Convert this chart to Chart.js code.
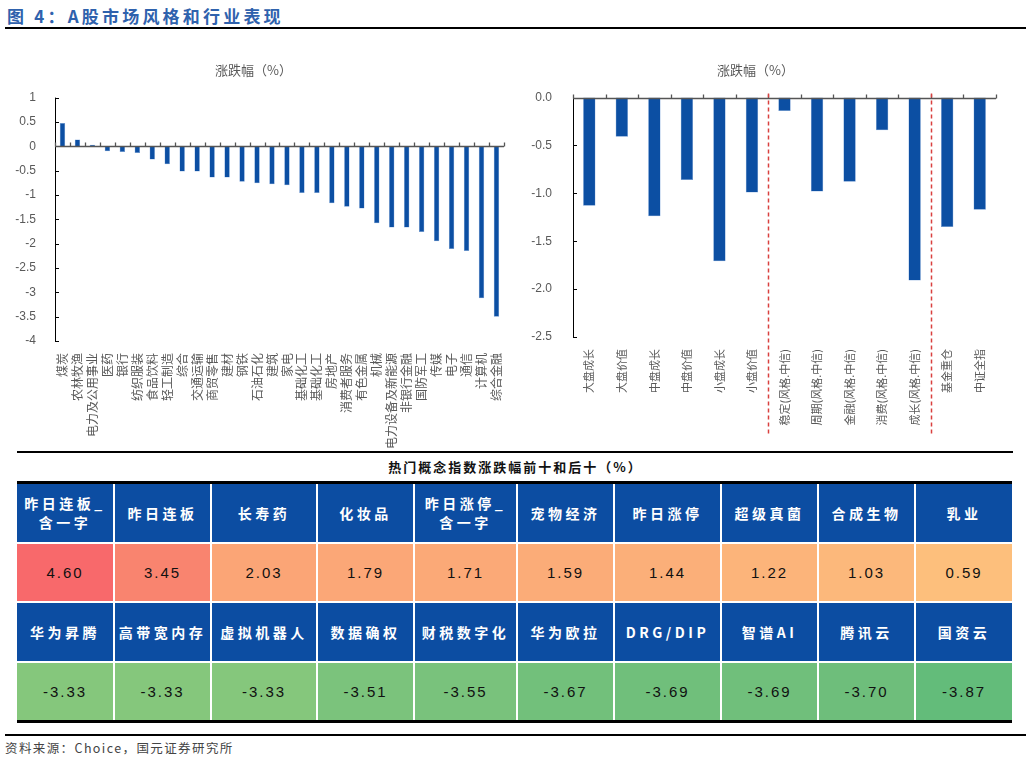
<!DOCTYPE html>
<html>
<head>
<meta charset="utf-8">
<script src="https://cdn.jsdelivr.net/npm/chart.js@4.4.1/dist/chart.umd.min.js"></script>
<style>
  body { margin: 0; background: #fff; }
  #page { position: relative; width: 1031px; height: 758px; overflow: hidden; font-family: "Noto Sans CJK SC", sans-serif; }
  .hline { position: absolute; height: 2px; background: #000; }
  #head { position: absolute; left: 7px; top: 3px; font-size: 17px; font-weight: bold; color: #2f62ad; letter-spacing: 3.2px; }
  #leftBox { position: absolute; left: 0; top: 50px; width: 515px; height: 400px; }
  #rightBox { position: absolute; left: 515px; top: 50px; width: 516px; height: 400px; }
  #tblTitle { position: absolute; left: 0; width: 1031px; top: 457px; text-align: center; font-size: 13px; font-weight: bold; letter-spacing: 2px; color: #111; }
  #tbl { position: absolute; left: 17px; top: 481px; display: grid; gap: 2px; background: #fff; border-top: 3px solid #000; border-bottom: 3px solid #000; }
  #tbl div { display: flex; align-items: center; justify-content: center; text-align: center; }
  .hd { background: #0c4da2; color: #fff; font-weight: bold; font-size: 14px; letter-spacing: 3.5px; line-height: 19px; }
  .vl { color: #111; font-family: "Liberation Sans", sans-serif; font-size: 15px; letter-spacing: 2px; }
  #src { position: absolute; left: 5px; top: 738px; font-size: 12.5px; color: #444; letter-spacing: 1.4px; }
</style>
</head>
<body>
<div id="page">
  <div id="head">图 4：A股市场风格和行业表现</div>
  <div class="hline" style="left:5px; top:27px; width:1021px;"></div>
  <div id="leftBox"><canvas id="industryChart"></canvas></div>
  <div id="rightBox"><canvas id="styleChart"></canvas></div>
  <div class="hline" style="left:17px; top:451px; width:996px;"></div>
  <div id="tblTitle">热门概念指数涨跌幅前十和后十（%）</div>
  <div id="tbl"></div>
  <div class="hline" style="left:5px; top:734px; width:1021px;"></div>
  <div id="src">资料来源：Choice，国元证券研究所</div>
</div>
<script>
// industry returns (%)
const industryLabels = ['煤炭', '农林牧渔', '电力及公用事业', '医药', '银行', '纺织服装', '食品饮料', '轻工制造', '综合', '交通运输',
  '商贸零售', '建材', '钢铁', '石油石化', '建筑', '家电', '基础化工', '基础化工', '房地产', '消费者服务',
  '有色金属', '机械', '电力设备及新能源', '非银行金融', '国防军工', '传媒', '电子', '通信', '计算机', '综合金融'];
const industryChange = [0.48, 0.14, 0.03, -0.10, -0.12, -0.14, -0.27, -0.37, -0.52, -0.52,
  -0.64, -0.64, -0.73, -0.76, -0.78, -0.80, -0.96, -0.96, -1.17, -1.24,
  -1.28, -1.58, -1.67, -1.67, -1.76, -1.95, -2.11, -2.15, -3.12, -3.50];
const industryTicks = [1, 0.5, 0, -0.5, -1, -1.5, -2, -2.5, -3, -3.5, -4];

// style index returns (%)
const styleLabels = ['大盘成长', '大盘价值', '中盘成长', '中盘价值', '小盘成长', '小盘价值',
  '稳定(风格.中信)', '周期(风格.中信)', '金融(风格.中信)', '消费(风格.中信)', '成长(风格.中信)', '基金重仓', '中证全指'];
const styleChange = [-1.13, -0.41, -1.24, -0.86, -1.71, -0.99, -0.14, -0.98, -0.88, -0.34, -1.91, -1.35, -1.17];
const styleTicks = [0, -0.5, -1, -1.5, -2, -2.5];
const styleSplits = [6, 11];

// hot concepts table
const topConcepts = ['昨日连板_<br>含一字', '昨日连板', '长寿药', '化妆品', '昨日涨停_<br>含一字', '宠物经济', '昨日涨停', '超级真菌', '合成生物', '乳业'];
const topChange = ['4.60', '3.45', '2.03', '1.79', '1.71', '1.59', '1.44', '1.22', '1.03', '0.59'];
const bottomConcepts = ['华为昇腾', '高带宽内存', '虚拟机器人', '数据确权', '财税数字化', '华为欧拉', 'DRG/DIP', '智谱AI', '腾讯云', '国资云'];
const bottomChange = ['-3.33', '-3.33', '-3.33', '-3.51', '-3.55', '-3.67', '-3.69', '-3.69', '-3.70', '-3.87'];
const topColors = ['#f8696b', '#f9846f', '#fba576', '#fba777', '#fba977', '#fbac78', '#fbaf79', '#fcb47a', '#fcb87b', '#fdbf7c'];
const bottomColors = ['#85c77c', '#85c77c', '#85c77c', '#7bc37c', '#79c27c', '#72c07b', '#70bf7b', '#70bf7b', '#6ebe7b', '#63bc7a'];
const colWidths = [96, 95, 104, 95, 101, 95, 105, 95, 95, 96];

const BLUE = '#0c4fa3';
const GRAY = '#595959';

const axisDeco = {
  id: 'axisDeco',
  afterDatasetsDraw(chart, args, o) {
    const { ctx, chartArea: a, scales: { x, y } } = chart;
    const n = chart.data.labels.length;
    const bound = i => i === 0 ? a.left : i === n ? a.right : (x.getPixelForValue(i - 1) + x.getPixelForValue(i)) / 2;
    ctx.save();
    ctx.strokeStyle = '#000';
    ctx.lineWidth = 1;
    ctx.beginPath();
    const lx = Math.round(a.left) + 0.5;
    ctx.moveTo(lx, a.top); ctx.lineTo(lx, a.bottom);
    y.ticks.forEach(t => {
      const py = Math.round(y.getPixelForValue(t.value)) + 0.5;
      ctx.moveTo(a.left, py); ctx.lineTo(a.left + 4, py);
    });
    ctx.stroke();
    // category axis on the zero line
    const zy = Math.round(y.getPixelForValue(0)) + 0.5;
    ctx.strokeStyle = '#555';
    ctx.lineWidth = 1.3;
    ctx.beginPath();
    ctx.moveTo(a.left, zy); ctx.lineTo(a.right, zy);
    for (let i = 0; i <= n; i++) {
      const bx = Math.round(bound(i)) + 0.5;
      ctx.moveTo(bx, zy); ctx.lineTo(bx, zy - 4);
    }
    ctx.stroke();
    // red dashed group separators
    if (o.splits) {
      ctx.strokeStyle = '#d9403f';
      ctx.lineWidth = 1.5;
      ctx.setLineDash([4, 3]);
      o.splits.forEach(i => {
        const bx = Math.round(bound(i)) + 0.5;
        ctx.beginPath();
        ctx.moveTo(bx, a.top - 4); ctx.lineTo(bx, o.bottom);
        ctx.stroke();
      });
    }
    ctx.restore();
  }
};

function barChart(id, labels, values, ticks, cfg) {
  const canvas = document.getElementById(id);
  return new Chart(canvas, {
    type: 'bar',
    data: {
      labels,
      datasets: [{ data: values, backgroundColor: BLUE, borderColor: '#6f9bd6', borderWidth: 0.5, barPercentage: cfg.bar, categoryPercentage: 1 }]
    },
    options: {
      responsive: true,
      maintainAspectRatio: false,
      animation: false,
      layout: { padding: { left: 0, right: cfg.right, top: 0, bottom: 0 } },
      plugins: {
        legend: { display: false },
        tooltip: { enabled: false },
        title: {
          display: true, text: '涨跌幅（%）', color: GRAY,
          font: { family: 'Noto Sans CJK SC', size: 13, weight: 'normal' },
          padding: { top: 12, bottom: 20 }
        },
        axisDeco: { splits: cfg.splits, bottom: cfg.splitBottom }
      },
      scales: {
        x: {
          grid: { display: false },
          border: { display: false },
          ticks: {
            autoSkip: false, minRotation: 90, maxRotation: 90, padding: 4, color: GRAY,
            font: { family: 'Noto Sans CJK SC', size: cfg.labelSize }
          },
          afterFit: s => { s.height = cfg.xHeight; }
        },
        y: {
          min: ticks[ticks.length - 1], max: ticks[0],
          afterBuildTicks: s => { s.ticks = ticks.map(v => ({ value: v })); },
          grid: { display: false },
          border: { display: false },
          ticks: {
            color: GRAY, padding: cfg.tickPad,
            font: { family: 'Liberation Sans', size: 12 },
            callback: v => cfg.fmt(v)
          },
          afterFit: s => { s.width = cfg.yWidth; }
        }
      }
    },
    plugins: [axisDeco]
  });
}

barChart('industryChart', industryLabels, industryChange, industryTicks, {
  bar: 0.36, right: 8, xHeight: 109, yWidth: 55, tickPad: 11, labelSize: 12,
  fmt: v => String(v)
});

barChart('styleChart', styleLabels, styleChange, styleTicks, {
  bar: 0.38, right: 35, xHeight: 113, yWidth: 58, tickPad: 13, labelSize: 11,
  splits: styleSplits, splitBottom: 385,
  fmt: v => v.toFixed(1)
});

// table
const tbl = document.getElementById('tbl');
tbl.style.gridTemplateColumns = colWidths.map(w => w + 'px').join(' ');
tbl.style.gridTemplateRows = '58px 57px 58px 57px';
function addRow(texts, cls, colors) {
  texts.forEach((t, i) => {
    const d = document.createElement('div');
    d.className = cls;
    d.innerHTML = t;
    if (colors) d.style.background = colors[i];
    tbl.appendChild(d);
  });
}
addRow(topConcepts, 'hd');
addRow(topChange, 'vl', topColors);
addRow(bottomConcepts, 'hd');
addRow(bottomChange, 'vl', bottomColors);
</script>
</body>
</html>
